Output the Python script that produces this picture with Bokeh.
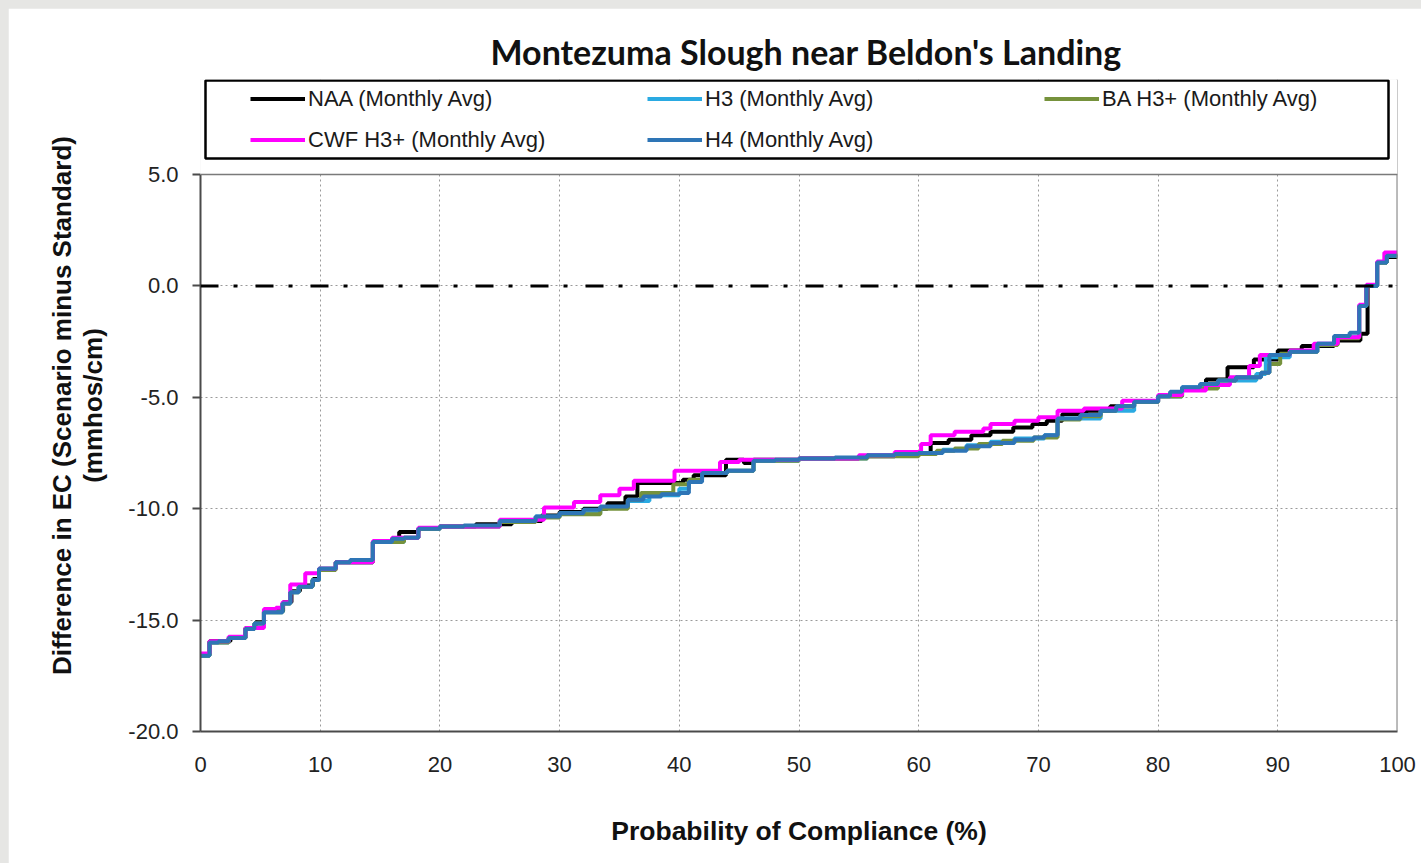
from bokeh.plotting import figure
from bokeh.models import (Legend, LegendItem, Span, BoxAnnotation, FixedTicker,
                          NumeralTickFormatter, Range1d, Title)
from bokeh.embed import file_html
from bokeh.resources import INLINE

title_text = "Montezuma Slough near Beldon's Landing"
x_label = "Probability of Compliance (%)"
y_label = "Difference in EC (Scenario minus Standard)\n(mmhos/cm)"
series_names = ["NAA (Monthly Avg)", "H3 (Monthly Avg)", "BA H3+ (Monthly Avg)",
                "CWF H3+ (Monthly Avg)", "H4 (Monthly Avg)"]
series_colors = ["#000000", "#2AAAE2", "#76923C", "#FF00FF", "#2E75B6"]
x_ticks = [0, 10, 20, 30, 40, 50, 60, 70, 80, 90, 100]
y_ticks = [-20, -15, -10, -5, 0, 5]

naa_x = [0, 0.75, 2.5, 3.75, 4.6, 5.3, 6.9, 7.6, 8.3, 9.4, 9.9, 11.3, 14.4, 16.6, 18.2, 20, 23, 26, 28.5, 30,
         32, 34, 35.5, 36.5, 40.3, 41.2, 43.9, 45.4, 46.2, 50, 55, 58, 61, 62.5, 64.4, 66, 67.9, 69.5, 70.7, 72,
         74, 76, 78, 80, 82, 84, 85.8, 88, 90, 92, 94.7, 96.9, 97.5, 98.3, 99.1, 100]
naa_y = [-16.55, -15.95, -15.8, -15.35, -15.1, -14.6, -14.2, -13.7, -13.45, -13.15, -12.7, -12.4, -11.5, -11.05,
         -10.9, -10.8, -10.7, -10.55, -10.3, -10.15, -10.0, -9.75, -9.45, -8.85, -8.7, -8.5, -7.8, -7.95, -7.8,
         -7.75, -7.65, -7.5, -7.05, -6.9, -6.7, -6.55, -6.35, -6.2, -6.05, -5.75, -5.6, -5.4, -5.2, -4.95, -4.6,
         -4.2, -3.65, -3.3, -2.9, -2.7, -2.45, -2.15, 0.0, 1.05, 1.3, 1.3]

h3_x = [0, 0.75, 2.35, 3.75, 4.5, 5.3, 6.85, 7.5, 8.2, 9.35, 9.9, 11.3, 14.4, 17.0, 18.2, 20, 25, 28, 30, 33.4,
        35.7, 37.5, 40.0, 40.8, 41.9, 44, 46.2, 50, 55.7, 60, 62, 64, 66, 68, 70.5, 71.6, 75.2, 78, 80, 82,
        85, 88.2, 89.0, 91, 93.3, 95, 96.8, 97.4, 98.3, 99.1, 100]
h3_y = [-16.6, -16.0, -15.8, -15.4, -15.15, -14.65, -14.25, -13.75, -13.5, -13.2, -12.7, -12.4, -11.5, -11.3,
        -10.9, -10.8, -10.55, -10.35, -10.2, -9.95, -9.65, -9.4, -9.1, -8.75, -8.4, -8.3, -7.85, -7.75, -7.6,
        -7.5, -7.35, -7.15, -7.0, -6.85, -6.7, -5.95, -5.6, -5.2, -4.95, -4.55, -4.25, -3.95, -3.2, -2.95,
        -2.6, -2.3, -0.9, 0.0, 1.05, 1.35, 1.35]

ba_x = [0, 0.75, 2.35, 3.75, 4.5, 5.3, 6.85, 7.5, 8.2, 9.35, 9.9, 11.3, 14.4, 17.0, 18.2, 20, 25, 28, 30, 33.4,
        35.7, 36.8, 39.5, 40.8, 41.9, 44, 46.2, 50, 55.7, 60, 61.5, 63, 65, 67, 69.6, 71.6, 73.5, 75.2, 76.5, 78,
        80, 82, 85, 86.5, 88.6, 89.3, 90.2, 91, 93.3, 95, 96.8, 97.4, 98.3, 99.1, 100]
ba_y = [-16.6, -16.0, -15.8, -15.4, -15.15, -14.65, -14.25, -13.75, -13.5, -13.2, -12.75, -12.4, -11.5, -11.3,
        -10.9, -10.8, -10.6, -10.4, -10.25, -10.0, -9.6, -9.3, -8.9, -8.7, -8.4, -8.3, -7.85, -7.75, -7.65,
        -7.55, -7.4, -7.3, -7.1, -6.95, -6.8, -6.0, -5.85, -5.6, -5.4, -5.2, -4.95, -4.6, -4.25, -4.1, -3.9,
        -3.5, -3.05, -2.95, -2.65, -2.35, -0.9, 0.0, 1.05, 1.35, 1.35]

cwf_x = [0, 0.75, 2.35, 3.75, 5.3, 6.3, 6.85, 7.5, 8.75, 9.9, 11.3, 14.4, 16.0, 18.2, 20, 25, 28.7, 31.2, 33.4,
         35.0, 36.2, 39.6, 43.4, 45.0, 50, 55, 58, 60.2, 61.0, 63, 65.4, 66.0, 68, 70, 71.6, 73.8, 77, 80, 82,
         84, 86, 87.6, 88.5, 91, 93, 95, 96.8, 97.4, 98.3, 98.9, 100]
cwf_y = [-16.5, -15.95, -15.75, -15.35, -14.5, -14.45, -14.2, -13.4, -12.9, -12.7, -12.4, -11.45, -11.3, -10.85,
         -10.8, -10.5, -9.95, -9.7, -9.4, -9.1, -8.75, -8.3, -7.9, -7.8, -7.75, -7.6, -7.45, -7.1, -6.7, -6.55,
         -6.4, -6.2, -6.05, -5.9, -5.6, -5.5, -5.15, -4.9, -4.7, -4.45, -4.1, -3.6, -3.1, -2.9, -2.6, -2.3,
         -0.85, 0.05, 1.1, 1.5, 1.5]

h4_x = [0, 0.75, 1.5, 2.35, 3.75, 4.5, 5.3, 6.85, 7.5, 8.2, 9.35, 9.9, 11.3, 12.5, 14.4, 16.0, 17.0, 18.2, 20.0,
        22.0, 25.0, 28.0, 30.0, 32.0, 33.4, 35.7, 37.0, 38.5, 40.0, 40.8, 41.9, 44.0, 46.2, 48.0, 50.0, 53.0,
        55.7, 58.0, 60.0, 62.0, 64.0, 66.0, 68.0, 69.6, 70.5, 71.6, 73.5, 75.2, 76.5, 78.0, 80.0, 81.0, 82.0,
        83.5, 85.0, 86.5, 88.6, 89.3, 91.0, 93.3, 94.7, 96.0, 96.8, 97.4, 98.3, 99.1, 100]
h4_y = [-16.6, -16.0, -15.95, -15.8, -15.4, -15.15, -14.65, -14.25, -13.75, -13.5, -13.2, -12.7, -12.4, -12.3,
        -11.5, -11.35, -11.3, -10.9, -10.8, -10.75, -10.55, -10.35, -10.2, -10.05, -9.9, -9.6, -9.45, -9.35,
        -9.3, -8.8, -8.4, -8.3, -7.85, -7.8, -7.75, -7.7, -7.6, -7.55, -7.5, -7.4, -7.2, -7.05, -6.9, -6.8,
        -6.7, -5.95, -5.8, -5.6, -5.4, -5.2, -4.95, -4.75, -4.55, -4.4, -4.25, -4.1, -3.9, -3.1, -2.95, -2.6,
        -2.25, -2.1, -0.9, 0.0, 1.05, 1.35, 1.35]

series = [(naa_x, naa_y), (h3_x, h3_y), (ba_x, ba_y), (cwf_x, cwf_y), (h4_x, h4_y)]

FONT = "Liberation Sans"
Y_MIN, Y_MAX = -20, 5
PX_PER_Y = 557 / 25.0          # plot-area pixels per y unit
Y_TOP = Y_MAX + 95 / PX_PER_Y  # extra frame room above 5.0 to hold the legend box

p = figure(width=1413, height=855, output_backend="svg", toolbar_location=None,
           x_range=Range1d(0, 100), y_range=Range1d(Y_MIN, Y_TOP),
           min_border_left=192, min_border_right=24, min_border_top=71, min_border_bottom=132)
p.background_fill_color = "white"
p.border_fill_color = "white"
p.outline_line_color = None

p.title = Title(text=title_text, text_font="Lato", text_font_style="bold",
                text_font_size="34px", text_color="#111111", align="left",
                vertical_align="top", offset=290, standoff=11)

p.xaxis.ticker = FixedTicker(ticks=x_ticks)
p.yaxis.ticker = FixedTicker(ticks=y_ticks)
p.yaxis.formatter = NumeralTickFormatter(format="0.0")
p.yaxis.bounds = (Y_MIN, Y_MAX)
for ax in (p.xaxis, p.yaxis):
    ax.major_label_text_font = FONT
    ax.major_label_text_font_size = "22px"
    ax.major_label_text_color = "#222222"
    ax.axis_label_text_font = FONT
    ax.axis_label_text_font_style = "bold"
    ax.axis_label_text_color = "#111111"
    ax.minor_tick_line_color = None
    ax.axis_line_color = "#4a4a4a"
    ax.axis_line_width = 2
    ax.major_tick_line_color = "#4a4a4a"
    ax.major_tick_line_width = 2
    ax.major_tick_in = 0
p.xaxis.axis_label = x_label
p.yaxis.axis_label = y_label
p.xaxis.axis_label_text_font_size = "26.5px"
p.yaxis.axis_label_text_font_size = "26px"
p.yaxis.axis_label_text_line_height = 1.05
p.xaxis.major_tick_out = 0
p.xaxis.major_label_standoff = 25
p.xaxis.axis_label_standoff = 41
p.yaxis.major_tick_out = 8
p.yaxis.major_label_standoff = 14
p.yaxis.axis_label_standoff = 17

for g in (p.xgrid, p.ygrid):
    g.grid_line_color = "#9a9a9a"
    g.grid_line_dash = "2 3"
    g.grid_line_width = 1

renderers = []
for (xs, ys), col in zip(series, series_colors):
    r = p.step(x=xs, y=ys, mode="after", line_color=col, line_width=4)
    renderers.append(r)

# zero reference line
p.add_layout(Span(location=0, dimension="width", line_color="black", line_width=3,
                  line_dash="18 15 4 18"))
# right border of the plot area
p.add_layout(Span(location=100, dimension="height", line_color="#7a7a7a", line_width=2))
# white mask above the plot area (legend zone)
p.add_layout(BoxAnnotation(bottom=Y_MAX, fill_color="white", fill_alpha=1.0, line_alpha=0))
# top border of the plot area
p.add_layout(Span(location=Y_MAX, dimension="width", line_color="#7a7a7a", line_width=1.5))
# legend frame
p.add_layout(BoxAnnotation(left=5 / 11.97, right=1188 / 11.97,
                           bottom=Y_MAX + 16 / PX_PER_Y, top=Y_MAX + 94 / PX_PER_Y,
                           fill_alpha=0, line_color="black", line_alpha=1.0, line_width=2.5))

items = [LegendItem(label=n, renderers=[r]) for n, r in zip(series_names, renderers)]
legend = Legend(items=items, location=(50, 574), orientation="horizontal", ncols=3,
                glyph_width=55, glyph_height=35, label_height=35, label_width=333,
                label_standoff=3, spacing=6, padding=0, margin=0,
                border_line_alpha=0, background_fill_alpha=0,
                label_text_font=FONT, label_text_font_size="22px", label_text_color="#1a1a1a")
p.add_layout(legend)

html = file_html(p, INLINE)
html = html.replace("</head>",
                    "<style>body{margin:8px 0 0 8px !important;background:#e6e6e4 !important;}</style></head>", 1)
open("out.html", "w").write(html)
